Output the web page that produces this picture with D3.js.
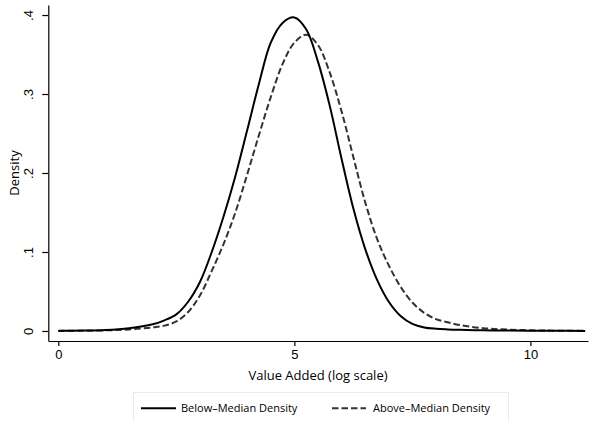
<!DOCTYPE html>
<html>
<head>
<meta charset="utf-8">
<script src="https://cdn.jsdelivr.net/npm/d3@7"></script>
<style>
  html, body { margin: 0; padding: 0; background: #fff; }
  svg { display: block; font-family: "Open Sans", "Noto Sans", sans-serif; }
</style>
</head>
<body>
<svg id="chart" width="590" height="421"></svg>
<script>
// Evaluation points (log value added)
const xs = [0, 0.5, 1.0, 1.5, 2.0, 2.25, 2.5, 2.75, 3.0, 3.25, 3.5, 3.75, 4.0, 4.25, 4.5, 4.75,
            5.0, 5.25, 5.5, 5.75, 6.0, 6.25, 6.5, 6.75, 7.0, 7.25, 7.5, 7.75, 8.0, 8.25, 8.5,
            9.0, 9.5, 10.0, 10.5, 11.16];
// Below-median density
const belowMedian = [0.0002, 0.0005, 0.0012, 0.0035, 0.0085, 0.0135, 0.021, 0.037, 0.062, 0.100,
                     0.145, 0.196, 0.254, 0.313, 0.365, 0.390, 0.397, 0.382, 0.341, 0.285, 0.218,
                     0.155, 0.104, 0.065, 0.037, 0.019, 0.009, 0.0045, 0.0028, 0.002, 0.0015,
                     0.0008, 0.0005, 0.0003, 0.0002, 0.0001];
// Above-median density
const aboveMedian = [0.0001, 0.0003, 0.0008, 0.002, 0.0045, 0.0068, 0.012, 0.024, 0.045, 0.076,
                     0.110, 0.150, 0.198, 0.248, 0.296, 0.338, 0.365, 0.375, 0.362, 0.327, 0.278,
                     0.220, 0.163, 0.117, 0.083, 0.056, 0.036, 0.023, 0.015, 0.011, 0.0075,
                     0.0035, 0.0018, 0.0008, 0.0004, 0.0002];
const xTicks = [0, 5, 10];
const yTicks = [0, 0.1, 0.2, 0.3, 0.4];
const yTickLabels = ["0", ".1", ".2", ".3", ".4"];
const seriesNames = ["Below\u2013Median Density", "Above\u2013Median Density"];

const svg = d3.select("#chart");
const x = d3.scaleLinear().domain([-0.212, 11.22]).range([48.3, 588]);
const y = d3.scaleLinear().domain([-0.0127, 0.4127]).range([341, 5]);

// Y axis
const yAxis = d3.axisLeft(y).tickValues(yTicks)
  .tickFormat((d, i) => yTickLabels[i]).tickSizeInner(6).tickSizeOuter(0).tickPadding(9);
const gy = svg.append("g").attr("transform", "translate(48.3,0)").call(yAxis);
gy.select(".domain").attr("stroke", "#000").attr("stroke-width", 1.2);
gy.selectAll(".tick line").attr("stroke", "#000").attr("stroke-width", 1.2);
gy.selectAll(".tick text")
  .attr("font-size", 13).attr("fill", "#000")
  .attr("text-anchor", "middle")
  .attr("x", null).attr("dy", null)
  .attr("transform", "translate(-15,0) rotate(-90)");

// X axis
const xAxis = d3.axisBottom(x).tickValues(xTicks).tickFormat(d3.format("d"))
  .tickSizeInner(5).tickSizeOuter(0).tickPadding(4);
const gx = svg.append("g").attr("transform", "translate(0,341)").call(xAxis);
gx.select(".domain").attr("stroke", "#000").attr("stroke-width", 1.2);
gx.selectAll(".tick line").attr("stroke", "#000").attr("stroke-width", 1.2);
gx.selectAll(".tick text").attr("font-size", 13).attr("fill", "#000");

// Axis titles
svg.append("text").attr("x", 318).attr("y", 380).attr("text-anchor", "middle")
  .attr("font-size", 13).attr("fill", "#000").text("Value Added (log scale)");
svg.append("text").attr("transform", "translate(19,173) rotate(-90)")
  .attr("text-anchor", "middle").attr("font-size", 13).attr("fill", "#000").text("Density");

// Curves
const line = d3.line().x(d => x(d[0])).y(d => y(d[1])).curve(d3.curveCatmullRom.alpha(0.5));
svg.append("path").datum(xs.map((v, i) => [v, aboveMedian[i]]))
  .attr("d", line).attr("fill", "none").attr("stroke", "#333")
  .attr("stroke-width", 2).attr("stroke-dasharray", "6.5,3");
svg.append("path").datum(xs.map((v, i) => [v, belowMedian[i]]))
  .attr("d", line).attr("fill", "none").attr("stroke", "#000").attr("stroke-width", 2);

// Legend
svg.append("rect").attr("x", 133.5).attr("y", 392.5).attr("width", 375).attr("height", 40)
  .attr("fill", "#fff").attr("stroke", "#e3ecf0").attr("stroke-width", 1);
const legendItems = [
  { name: seriesNames[0], x0: 141, x1: 176, tx: 181, color: "#000", dash: null },
  { name: seriesNames[1], x0: 332, x1: 366, tx: 373, color: "#333", dash: "6.5,3" }
];
legendItems.forEach(it => {
  svg.append("line").attr("x1", it.x0).attr("x2", it.x1).attr("y1", 408.3).attr("y2", 408.3)
    .attr("stroke", it.color).attr("stroke-width", 2).attr("stroke-dasharray", it.dash);
  svg.append("text").attr("x", it.tx).attr("y", 412).attr("font-size", 11)
    .attr("fill", "#000").text(it.name);
});
</script>
</body>
</html>
